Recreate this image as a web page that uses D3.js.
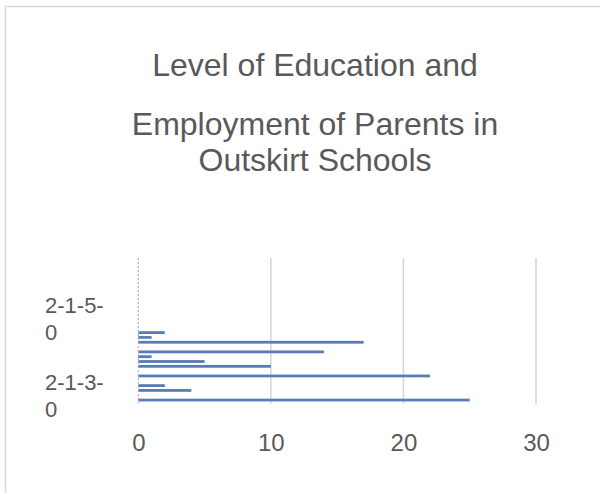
<!DOCTYPE html>
<html>
<head>
<meta charset="utf-8">
<script src="https://cdn.jsdelivr.net/npm/d3@7"></script>
<style>
  html, body { margin: 0; padding: 0; background: #ffffff; }
  svg { display: block; font-family: "Liberation Sans", Arial, sans-serif; }
</style>
</head>
<body>
<svg id="chart" width="600" height="493"></svg>
<script>
// ---- data ----
const categories = [
  "2-1-3-0", "2-1-3-1", "2-1-3-2", "2-1-3-3", "2-1-3-4", "2-1-3-5", "2-1-3-6", "2-1-3-7",
  "2-1-4-0", "2-1-4-1", "2-1-4-2", "2-1-4-3", "2-1-4-4", "2-1-4-5", "2-1-4-6", "2-1-4-7",
  "2-1-5-0", "2-1-5-1", "2-1-5-2", "2-1-5-3", "2-1-5-4", "2-1-5-5", "2-1-5-6", "2-1-5-7",
  "2-1-6-0", "2-1-6-1", "2-1-6-2", "2-1-6-3", "2-1-6-4", "2-1-6-5"
];
const values = [
  25, 0, 4, 2, 0, 22, 0, 10,
  5, 1, 14, 0, 17, 1, 2, 0,
  0, 0, 0, 0, 0, 0, 0, 0,
  0, 0, 0, 0, 0, 0
];
const shownCategoryLabels = ["2-1-3-0", "2-1-5-0"];
const xTicks = [0, 10, 20, 30];
const titleLines = ["Level of Education and", "Employment of Parents in", "Outskirt Schools"];

// ---- layout ----
const svg = d3.select("#chart");
const plot = { left: 138.3, right: 536, top: 258, bottom: 402.4 };
const textColor = "#595959";

// chart border (extends past the visible frame on right/bottom)
svg.append("rect")
  .attr("x", 5.5).attr("y", 6.5)
  .attr("width", 620).attr("height", 520)
  .attr("fill", "#ffffff")
  .attr("stroke", "#d9d9d9").attr("stroke-width", 1.5);

// title
const titleY = [76, 135, 171];
svg.append("g").selectAll("text")
  .data(titleLines)
  .join("text")
  .attr("x", 315)
  .attr("y", (d, i) => titleY[i])
  .attr("text-anchor", "middle")
  .attr("font-size", 32)
  .attr("fill", textColor)
  .text(d => d);

// scales
const x = d3.scaleLinear().domain([0, 30]).range([plot.left, plot.right]);
const y = d3.scaleBand().domain(categories).range([plot.bottom, plot.top]).paddingInner(0.42).paddingOuter(0.2);

// gridlines
svg.append("g")
  .selectAll("line")
  .data(xTicks.filter(d => d !== 0))
  .join("line")
  .attr("x1", d => x(d)).attr("x2", d => x(d))
  .attr("y1", plot.top).attr("y2", plot.bottom + 1)
  .attr("stroke", "#d4d4d4").attr("stroke-width", 1.5);

// bars
svg.append("g")
  .selectAll("rect")
  .data(categories.map((c, i) => ({ c, v: values[i] })).filter(d => d.v > 0))
  .join("rect")
  .attr("x", x(0))
  .attr("y", d => y(d.c))
  .attr("width", d => x(d.v) - x(0))
  .attr("height", y.bandwidth())
  .attr("fill", "#587cb7");

// vertical category axis line
svg.append("line")
  .attr("x1", x(0)).attr("x2", x(0))
  .attr("y1", plot.top).attr("y2", plot.bottom + 1)
  .attr("stroke", "#a6a6a6").attr("stroke-width", 1)
  .attr("stroke-dasharray", "2,2");

// x axis tick labels
const xAxis = d3.axisBottom(x).tickValues(xTicks).tickSize(0).tickPadding(0);
const gx = svg.append("g").attr("transform", `translate(0,${plot.bottom})`).call(xAxis);
gx.select(".domain").remove();
gx.selectAll("text")
  .attr("dy", null)
  .attr("y", 49)
  .attr("font-size", 24)
  .attr("font-family", "Liberation Sans, Arial, sans-serif")
  .attr("fill", textColor);

// y axis category labels (wrapped after the last hyphen)
const yAxis = d3.axisLeft(y).tickValues(shownCategoryLabels).tickSize(0).tickPadding(0);
const gy = svg.append("g").attr("transform", `translate(${plot.left},0)`).call(yAxis);
gy.select(".domain").remove();
gy.selectAll("text").each(function(d) {
  const t = d3.select(this);
  const cut = d.lastIndexOf("-") + 1;
  const parts = [d.slice(0, cut), d.slice(cut)];
  t.text(null)
    .attr("x", 45 - plot.left)
    .attr("dy", null)
    .attr("y", -10)
    .attr("text-anchor", "start")
    .attr("font-size", 22)
    .attr("font-family", "Liberation Sans, Arial, sans-serif")
    .attr("fill", textColor);
  parts.forEach((p, i) => {
    t.append("tspan")
      .attr("x", 45 - plot.left)
      .attr("dy", i === 0 ? 0 : 27)
      .text(p);
  });
});
</script>
</body>
</html>
